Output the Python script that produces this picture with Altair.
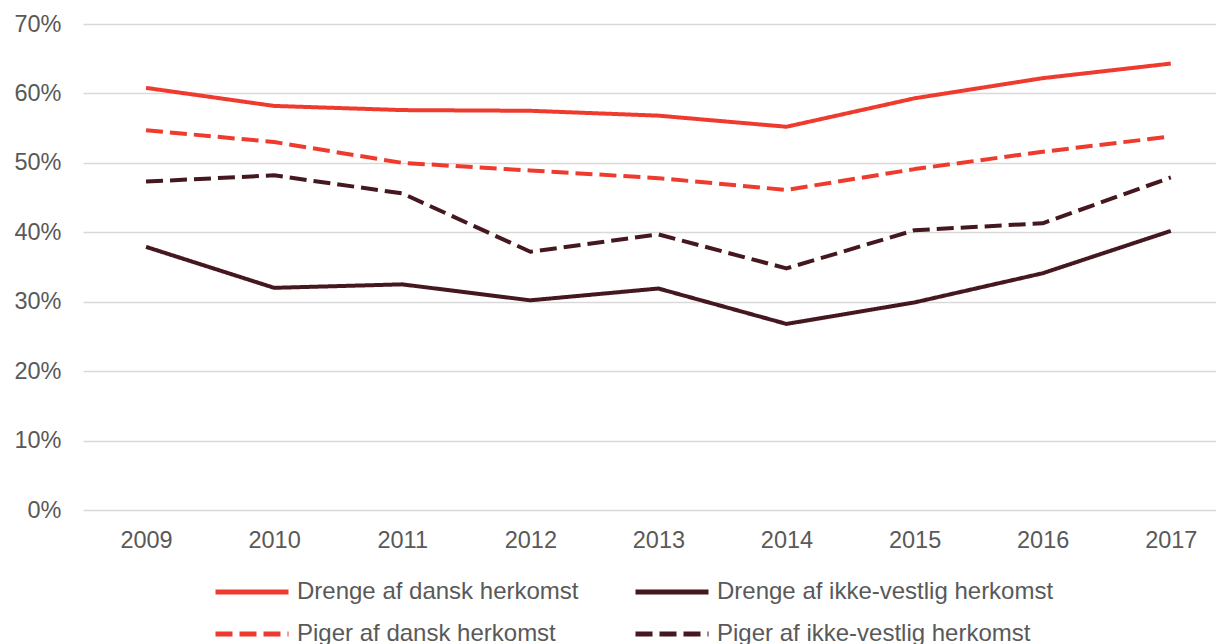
import altair as alt
import pandas as pd

years = [2009, 2010, 2011, 2012, 2013, 2014, 2015, 2016, 2017]
series = [
    "Drenge af dansk herkomst",
    "Piger af dansk herkomst",
    "Drenge af ikke-vestlig herkomst",
    "Piger af ikke-vestlig herkomst",
]
drenge_dansk = [60.8, 58.2, 57.6, 57.5, 56.8, 55.2, 59.3, 62.2, 64.3]
piger_dansk = [54.7, 53.0, 50.0, 48.9, 47.8, 46.1, 49.1, 51.6, 53.8]
drenge_ikke_vestlig = [37.9, 32.0, 32.5, 30.2, 31.9, 26.8, 29.9, 34.1, 40.2]
piger_ikke_vestlig = [47.3, 48.2, 45.6, 37.2, 39.7, 34.8, 40.3, 41.3, 47.9]
y_ticks = [0, 10, 20, 30, 40, 50, 60, 70]

colors = ["#EE3B2E", "#EE3B2E", "#45171F", "#45171F"]
dashes = [[1, 0], [17, 7], [1, 0], [17, 7]]

rows = []
for name, vals in zip(series, [drenge_dansk, piger_dansk, drenge_ikke_vestlig, piger_ikke_vestlig]):
    for yr, v in zip(years, vals):
        rows.append({"year": yr, "value": v, "series": name})
df = pd.DataFrame(rows)

FONT = "Liberation Sans"
GRAY = "#595959"

legend = alt.Legend(
    title=None,
    orient="none",
    legendX=130,
    legendY=555,
    columns=2,
    symbolType="stroke",
    symbolSize=73 * 73,
    symbolStrokeWidth=5,
    labelFontSize=24,
    labelColor=GRAY,
    labelFont=FONT,
    labelLimit=600,
    labelOffset=6,
    columnPadding=54,
    rowPadding=16,
    clipHeight=26,
    padding=0,
    symbolOffset=0,
)

chart = (
    alt.Chart(df)
    .mark_line(strokeWidth=4, strokeJoin="round")
    .encode(
        x=alt.X(
            "year:Q",
            scale=alt.Scale(domain=[2008.508, 2017.353], nice=False, zero=False),
            axis=alt.Axis(
                title=None, values=years, format="d", labelAngle=0, ticks=False, tickSize=0,
                domain=False, grid=False,
                labelFontSize=23.5, labelColor=GRAY, labelFont=FONT, labelPadding=18,
            ),
        ),
        y=alt.Y(
            "value:Q",
            scale=alt.Scale(domain=[0, 70], nice=False),
            axis=alt.Axis(
                title=None, values=y_ticks, labelExpr="datum.value + '%'",
                grid=True, gridColor="#D9D9D9", gridWidth=1.5,
                ticks=False, tickSize=0, domain=False,
                labelFontSize=23.5, labelColor=GRAY, labelFont=FONT, labelPadding=22,
            ),
        ),
        color=alt.Color("series:N", scale=alt.Scale(domain=series, range=colors), legend=legend),
        strokeDash=alt.StrokeDash("series:N", scale=alt.Scale(domain=series, range=dashes), legend=legend),
    )
    .properties(
        width=1133,
        height=486,
        autosize=alt.AutoSizeParams(type="none"),
        padding={"left": 75, "top": 16, "right": 0, "bottom": 140},
    )
    .configure_view(stroke=None)
)

chart.save("out.html", embed_options={"renderer": "svg", "actions": False})
